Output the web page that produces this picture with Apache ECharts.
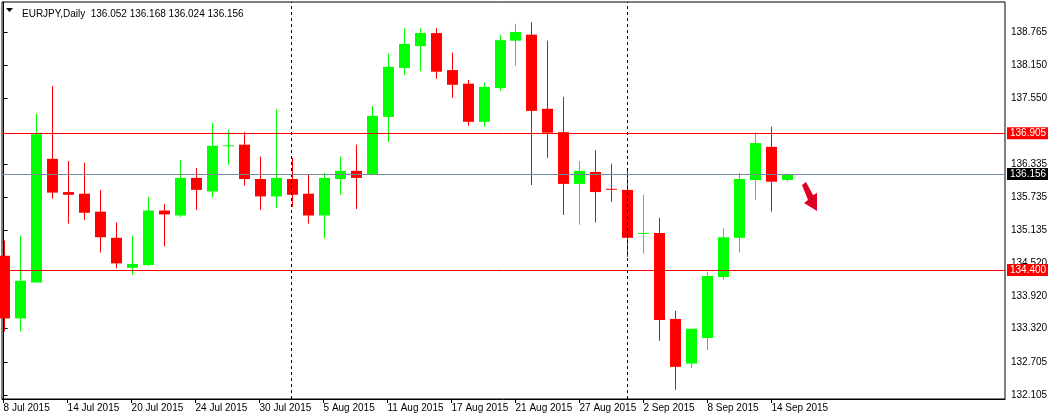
<!DOCTYPE html>
<html><head><meta charset="utf-8">
<script src="https://cdn.jsdelivr.net/npm/echarts@6/dist/echarts.min.js"></script>
<style>html,body{margin:0;padding:0;background:#fff}#c{width:1048px;height:417px}</style>
</head><body><div id="c"></div>
<script>
const dateLabels = ['8 Jul 2015','14 Jul 2015','20 Jul 2015','24 Jul 2015','30 Jul 2015','5 Aug 2015','11 Aug 2015','17 Aug 2015','21 Aug 2015','27 Aug 2015','2 Sep 2015','8 Sep 2015','14 Sep 2015'];
const priceTicks = [132.105,132.705,133.320,133.920,134.520,135.135,135.735,136.335,137.550,138.150,138.765];
const opens  = [134.66,133.51,134.17,136.44,135.83,135.80,135.47,134.99,134.44,134.49,135.49,135.40,136.09,135.84,136.68,136.70,136.07,135.75,136.07,135.80,135.40,136.07,136.22,136.15,137.21,138.11,138.51,138.75,138.07,137.82,137.12,137.74,138.61,138.72,137.36,136.93,135.98,136.20,135.89,135.87,135.07,135.08,133.50,132.68,133.15,134.27,134.99,136.05,136.66,136.052];
const highs  = [134.94,135.03,137.27,137.78,136.40,136.37,135.87,135.27,135.03,135.74,135.61,136.42,136.27,137.10,136.97,136.93,136.48,137.35,136.46,136.16,136.18,136.48,136.70,137.41,138.37,138.84,138.84,138.84,138.39,137.89,137.84,138.72,138.92,138.95,138.61,137.58,136.40,136.60,136.35,136.24,135.78,135.36,133.65,133.32,134.36,135.17,136.18,136.92,137.03,136.168];
const lows   = [133.27,133.27,134.17,135.71,135.25,135.32,134.72,134.43,134.31,134.47,134.83,135.37,135.50,135.73,136.33,135.95,135.50,135.54,135.56,135.25,134.98,135.78,135.52,136.15,136.75,137.98,138.05,137.91,137.56,137.05,137.03,137.69,138.15,135.96,136.46,135.41,135.23,135.27,135.65,134.64,134.70,133.10,132.20,132.60,132.93,134.22,134.72,135.69,135.47,136.024];
const closes = [133.51,134.20,136.89,135.82,135.78,135.45,135.00,134.52,134.51,135.49,135.42,136.09,135.87,136.68,136.69,136.07,135.75,136.09,135.78,135.40,136.09,136.22,136.09,137.23,138.13,138.55,138.75,138.04,137.80,137.12,137.76,138.62,138.77,137.32,136.92,135.98,136.22,135.83,135.88,134.99,135.08,133.48,132.62,133.32,134.29,135.00,136.07,136.73,136.02,136.156];
const levels = [136.905, 134.400];
const current = 136.156;

const data = opens.map((o,i)=>[i,o,closes[i],lows[i],highs[i]]);
const chart = echarts.init(document.getElementById('c'));
const font = '"Liberation Sans", Arial, sans-serif';
const fs = 10;
const lvlLabel = (v,bg)=>({show:true,position:'end',formatter:v.toFixed(3),color:'#fff',backgroundColor:bg,fontFamily:font,fontSize:fs,padding:[1,3],distance:2});
chart.setOption({
  animation:false,
  grid:{left:2,right:43,top:2,bottom:18,containLabel:false,outerBoundsMode:'none',show:true,borderColor:'#000',borderWidth:1,backgroundColor:'#fff'},
  xAxis:{type:'value',min:-0.1,max:62.6,splitLine:{show:false},
    axisLine:{show:true,onZero:false,lineStyle:{color:'#000'}},
    axisTick:{show:true,customValues:[0,4,8,12,16,20,24,28,32,36,40,44,48],length:4,lineStyle:{color:'#000'}},
    axisLabel:{customValues:[0,4,8,12,16,20,24,28,32,36,40,44,48],formatter:v=>dateLabels[Math.round(v/4)],
      color:'#000',fontFamily:font,fontSize:fs,align:'left',margin:4,hideOverlap:false}},
  yAxis:{type:'value',position:'right',min:132.03,max:139.32,splitLine:{show:false},
    axisLine:{show:true,lineStyle:{color:'#000'}},
    axisTick:{show:true,customValues:priceTicks,length:4,inside:false,lineStyle:{color:'#000'}},
    axisLabel:{customValues:priceTicks,formatter:v=>v.toFixed(3),color:'#000',fontFamily:font,fontSize:fs,margin:6,hideOverlap:false}},
  title:{text:'EURJPY,Daily  136.052 136.168 136.024 136.156',left:17,top:4,
    textStyle:{fontFamily:font,fontSize:fs,fontWeight:'normal',color:'#000'}},
  graphic:[
    {type:'polygon',shape:{points:[[6,8],[13,8],[9.5,12]]},style:{fill:'#000'}},
    {type:'polygon',shape:{points:[[802,185],[806,182],[813,195],[817,193],[817,211],[804,203],[808,200]]},style:{fill:'#dd0022'}}
  ],
  series:[{
    type:'custom',
    data:data,
    z:2,
    encode:{x:0,y:[1,2,3,4]},
    renderItem:(params,api)=>{
      const i=api.value(0),o=api.value(1),c=api.value(2),l=api.value(3),h=api.value(4);
      const col = c>=o ? '#00ff00' : '#ff0000';
      const pO=api.coord([i,o]),pC=api.coord([i,c]),pL=api.coord([i,l]),pH=api.coord([i,h]);
      const x=Math.round(pO[0])+0.5;
      const top=Math.min(pO[1],pC[1]),bot=Math.max(pO[1],pC[1]);
      const hh=Math.max(bot-top,1);
      return {type:'group',children:[
        {type:'line',shape:{x1:x,y1:pH[1],x2:x,y2:pL[1]},style:{stroke:col,lineWidth:1}},
        {type:'rect',shape:{x:x-5.5,y:top,width:11,height:hh},style:{fill:col}}
      ]};
    },
    markLine:{silent:true,symbol:'none',animation:false,
      data:[
        {xAxis:18,lineStyle:{color:'#000',type:[3,3],width:1},label:{show:false}},
        {xAxis:39,lineStyle:{color:'#000',type:[3,3],width:1},label:{show:false}}
      ]}
  },{
    type:'line',data:[],z:5,
    markLine:{silent:true,symbol:'none',animation:false,
      data:[
        {yAxis:current,lineStyle:{color:'#778899',type:'solid',width:1},label:lvlLabel(current,'#000')},
        {yAxis:levels[1],lineStyle:{color:'#ff0000',type:'solid',width:1},label:lvlLabel(levels[1],'#ff0000')},
        {yAxis:levels[0],lineStyle:{color:'#ff0000',type:'solid',width:1},label:lvlLabel(levels[0],'#ff0000')}
      ]}
  }]
});
</script></body></html>
